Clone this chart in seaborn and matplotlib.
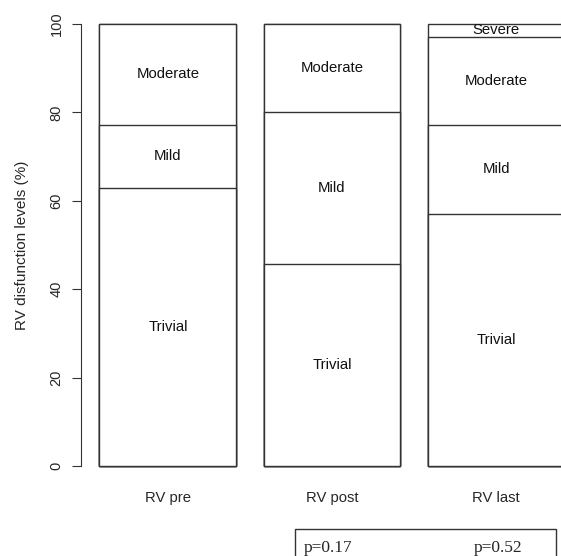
import matplotlib
matplotlib.use("Agg")
import matplotlib.pyplot as plt
from matplotlib.patches import Rectangle
import numpy as np
import pandas as pd
import seaborn as sns

# data (percent of patients, n=35)
groups = ["RV pre", "RV post", "RV last"]
levels = ["Trivial", "Mild", "Moderate", "Severe"]
trivial = [62.9, 45.7, 57.1]
mild = [14.3, 34.3, 20.0]
moderate = [22.9, 20.0, 20.0]
severe = [0.0, 0.0, 2.9]
pvalues = ["p=0.17", "p=0.52"]

sns.set_style("white")
plt.rcParams["font.family"] = ["Liberation Sans", "DejaVu Sans"]

vals = np.array([trivial, mild, moderate, severe])
cum = vals.cumsum(axis=0)

fig = plt.figure(figsize=(5.61, 5.56), dpi=100)
ax = fig.add_axes([81 / 561, 0.146, 1 - 81 / 561, 0.8266])

line_col = "#333333"
# draw cumulative bars from the tallest down so each segment shows its border
for i in range(len(levels) - 1, -1, -1):
    df = pd.DataFrame({"group": groups, "top": cum[i]})
    sns.barplot(data=df, x="group", y="top", color="white", saturation=1,
                edgecolor=line_col, linewidth=1.0, width=0.835, ax=ax)

for j, g in enumerate(groups):
    for i, lev in enumerate(levels):
        if vals[i, j] > 0:
            ax.text(j, cum[i, j] - vals[i, j] / 2, lev, ha="center",
                    va="center", fontsize=10.7, color="#111111")

ax.set_xlim(-0.53, 2.396)
ax.set_ylim(-2, 102)
ax.set_xlabel("")
ax.set_ylabel("RV disfunction levels (%)", fontsize=11, labelpad=15)
ax.set_yticks([0, 20, 40, 60, 80, 100])
ax.set_yticklabels(["0", "20", "40", "60", "80", "100"], rotation=90,
                   va="center", fontsize=10.5)
ax.tick_params(axis="y", direction="out", length=6.5, width=0.8,
               color=line_col, pad=6, left=True)
ax.tick_params(axis="x", length=0, pad=12, labelsize=10.7)
for s in ["top", "right", "bottom"]:
    ax.spines[s].set_visible(False)
ax.spines["left"].set_bounds(0, 100)
ax.spines["left"].set_color(line_col)
ax.spines["left"].set_linewidth(0.8)

# p-value box below the plot
fig.patches.append(Rectangle((295 / 561, -0.05), (556 - 295) / 561,
                             0.05 + (556 - 529) / 556,
                             transform=fig.transFigure, fill=False,
                             edgecolor=line_col, linewidth=1.0))
fig.text(304 / 561, (556 - 552) / 556, pvalues[0], family="Liberation Serif",
         fontsize=12.5, va="baseline")
fig.text(474 / 561, (556 - 552) / 556, pvalues[1], family="Liberation Serif",
         fontsize=12.5, va="baseline")

fig.savefig("out.png", dpi=100)
